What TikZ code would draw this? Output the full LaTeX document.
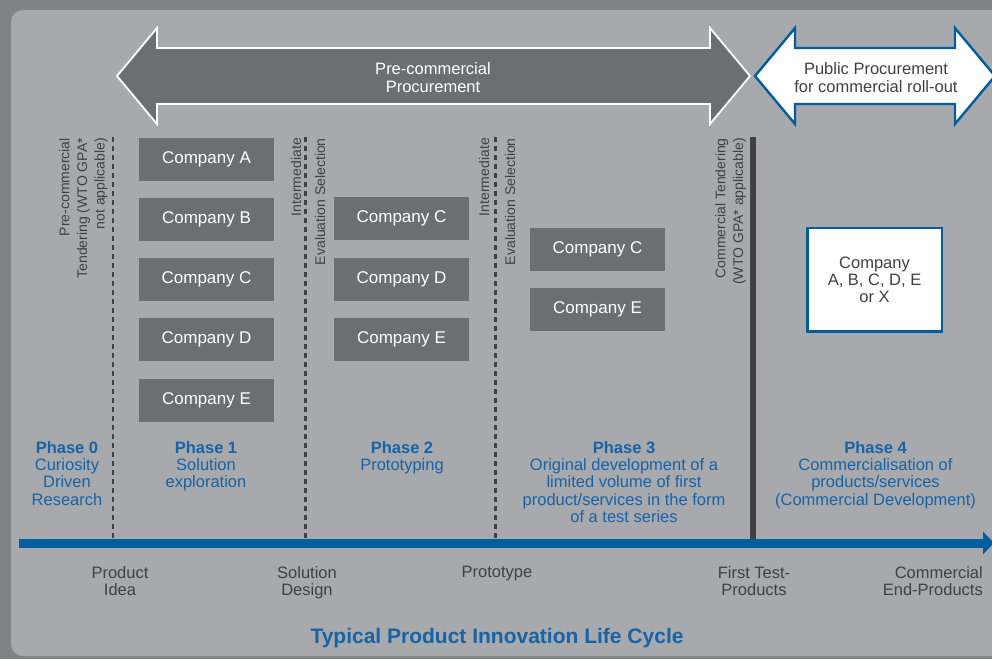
\documentclass[tikz,border=0pt]{standalone}
\usepackage{fontspec}
\setmainfont{Liberation Sans}
\usetikzlibrary{arrows.meta}
\definecolor{outerbg}{RGB}{128,130,133}
\definecolor{panelbg}{RGB}{167,169,172}
\definecolor{boxgray}{RGB}{109,110,113}
\definecolor{darktext}{RGB}{65,64,66}
\definecolor{lineblue}{RGB}{0,93,158}
\definecolor{textblue}{RGB}{22,99,168}
\begin{document}
\begin{tikzpicture}[x=1pt,y=-1pt,
  cbox/.style={fill=boxgray,text=white,minimum width=135pt,minimum height=43pt,inner sep=0pt,font=\fontsize{17}{18}\selectfont},
  phasetxt/.style={text=textblue,align=center,inner sep=0pt,anchor=north,font=\fontsize{16.5}{17.3}\selectfont},
  miletxt/.style={text=darktext,align=center,inner sep=0pt,anchor=north,font=\fontsize{16.5}{17.5}\selectfont},
  vtxt/.style={text=darktext,rotate=90,inner sep=0pt,font=\fontsize{14}{17.7}\selectfont},
  gate/.style={draw=darktext,line width=2.5pt,dash pattern=on 5pt off 4pt},
  arrowtxt/.style={align=center,inner sep=0pt,anchor=north,font=\fontsize{16.5}{18}\selectfont}
]
\useasboundingbox (0,0) rectangle (992,659);
\fill[outerbg] (0,0) rectangle (992,659);
\fill[panelbg,rounded corners=12pt] (11,10) rectangle (1010,656);

% big procurement arrows
\draw[white,line width=1.8pt,fill=boxgray,line join=miter]
  (117,76) -- (157,28) -- (157,48) -- (710,48) -- (710,28) -- (750,76)
  -- (710,124) -- (710,104) -- (157,104) -- (157,124) -- cycle;
\draw[lineblue,line width=2.4pt,fill=white,line join=miter]
  (755,76) -- (795,28) -- (795,48) -- (955,48) -- (955,28) -- (995,76)
  -- (955,124) -- (955,104) -- (795,104) -- (795,124) -- cycle;
\node[arrowtxt,text=white] (pcp) at (433,62) {Pre-commercial\\Procurement};
\node[arrowtxt,text=darktext] (pp) at (876,62) {Public Procurement\\for commercial roll-out};

% gates
\coordinate (g0t) at (113,137); \coordinate (g0b) at (113,539);
\coordinate (g1t) at (305.5,137); \coordinate (g1b) at (305.5,539);
\coordinate (g2t) at (495.5,137); \coordinate (g2b) at (495.5,539);
\coordinate (g3t) at (753,137); \coordinate (g3b) at (753,539);
\draw[gate] (g0t) -- (g0b);
\draw[gate] (g1t) -- (g1b);
\draw[gate] (g2t) -- (g2b);
\draw[darktext,line width=5.5pt] (g3t) -- (g3b);

% vertical labels
\node[vtxt,align=right,anchor=north east] (v0) at (59,138) {Pre-commercial\\Tendering (WTO GPA*\\not applicable)};
\node[vtxt,anchor=base east] (v1a) at (301,138) {Intermediate};
\node[vtxt,anchor=base east] (v1b) at (325,138) {Evaluation Selection};
\node[vtxt,anchor=base east] (v2a) at (489,138) {Intermediate};
\node[vtxt,anchor=base east] (v2b) at (515,138) {Evaluation Selection};
\node[vtxt,align=right,anchor=north east] (v3) at (715,138) {Commercial Tendering\\(WTO GPA* applicable)};

% companies
\node[cbox] (c1a) at (206.5,159) {Company A};
\node[cbox] (c1b) at (206.5,219.5) {Company B};
\node[cbox] (c1c) at (206.5,279.5) {Company C};
\node[cbox] (c1d) at (206.5,339.5) {Company D};
\node[cbox] (c1e) at (206.5,400.5) {Company E};
\node[cbox] (c2c) at (401.5,218.5) {Company C};
\node[cbox] (c2d) at (401.5,279.5) {Company D};
\node[cbox] (c2e) at (401.5,339.5) {Company E};
\node[cbox] (c3c) at (597.5,249.5) {Company C};
\node[cbox] (c3e) at (597.5,309.5) {Company E};
\node[draw=lineblue,line width=2.5pt,fill=white,minimum width=134.5pt,minimum height=103.5pt,
  text=darktext,align=center,inner sep=0pt,font=\fontsize{16.5}{17}\selectfont] (cx) at (874.5,279.5)
  {Company\\A, B, C, D, E\\or X};

% phases
\node[phasetxt] (p0) at (67,441) {\textbf{Phase 0}\\Curiosity\\Driven\\Research};
\node[phasetxt] (p1) at (206,441) {\textbf{Phase 1}\\Solution\\exploration};
\node[phasetxt] (p2) at (402,441) {\textbf{Phase 2}\\Prototyping};
\node[phasetxt] (p3) at (624,441) {\textbf{Phase 3}\\Original development of a\\limited volume of first\\product/services in the form\\of a test series};
\node[phasetxt] (p4) at (875.5,441) {\textbf{Phase 4}\\Commercialisation of\\products/services\\(Commercial Development)};

% timeline
\coordinate (tls) at (19,543); \coordinate (tle) at (994,543);
\draw[lineblue,line width=9pt,-{Triangle[length=11pt,width=22pt]}] (tls) -- (tle);

% milestones
\node[miletxt] (m1) at (120,566) {Product\\Idea};
\node[miletxt] (m2) at (307,566) {Solution\\Design};
\node[miletxt] (m3) at (497,566) {Prototype};
\node[miletxt] (m4) at (754,566) {First Test-\\Products};
\node[miletxt,align=right,anchor=north east] (m5) at (983,566) {Commercial\\End-Products};

\node[text=textblue,font=\fontsize{21}{24}\selectfont\bfseries,inner sep=0pt,anchor=north] (title) at (497,628) {Typical Product Innovation Life Cycle};
\end{tikzpicture}
\end{document}
